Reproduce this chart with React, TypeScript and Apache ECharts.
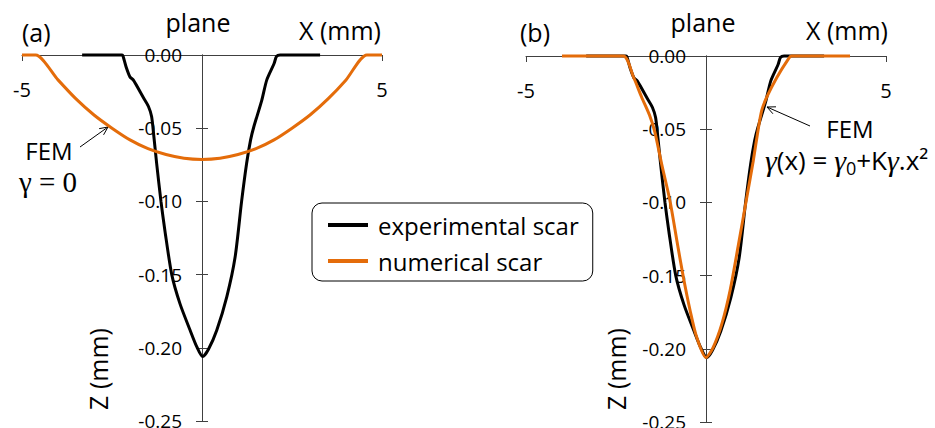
import React, { useEffect, useRef } from 'react';
import * as echarts from 'echarts';

// ---- data (x in mm, z in mm) ----
const expX = [-3.33, -2.22, -2.19, -2.11, -2.0, -1.91, -1.63, -1.49, -1.4, -1.34, -1.26, -1.14, -1.03, -0.84, -0.61, -0.33, -0.15, 0.02, 0.18, 0.41, 0.69, 0.92, 1.1, 1.24, 1.35, 1.44, 1.66, 1.8, 2.0, 2.07, 2.17, 3.28];
const expZ = [0, 0, -0.001, -0.008, -0.015, -0.017, -0.029, -0.035, -0.042, -0.055, -0.074, -0.1, -0.12, -0.15, -0.17, -0.188, -0.199, -0.206, -0.201, -0.188, -0.165, -0.138, -0.1, -0.074, -0.058, -0.049, -0.031, -0.017, -0.006, -0.001, 0, 0];

const numAX = [-5, -4.62, -4, -3.5, -3, -2.5, -2, -1.5, -1, -0.5, 0, 0.5, 1, 1.5, 2, 2.5, 3, 3.5, 4, 4.58, 5];
const numAZ = [0, 0, -0.017, -0.03, -0.041, -0.05, -0.058, -0.064, -0.068, -0.0705, -0.0713, -0.0705, -0.068, -0.064, -0.058, -0.05, -0.041, -0.03, -0.017, 0, 0];

const numBX = [-4.0, -2.3, -2.02, -1.79, -1.56, -1.42, -1.23, -1.0, -0.81, -0.63, -0.44, -0.26, 0, 0.2, 0.44, 0.67, 0.9, 1.13, 1.31, 1.45, 1.55, 1.69, 1.96, 2.29, 2.37, 4.0];
const numBZ = [0, 0, -0.014, -0.028, -0.041, -0.052, -0.074, -0.099, -0.126, -0.151, -0.174, -0.192, -0.206, -0.199, -0.183, -0.16, -0.129, -0.097, -0.072, -0.05, -0.037, -0.028, -0.015, -0.002, 0, 0];

const xTickValues = [-5, 5];
const xMin = -5;
const xMax = 5;
const zMin = -0.25;
const zMax = 0;
const zStep = 0.05;

const SERIES_EXP = 'experimental scar';
const SERIES_NUM = 'numerical scar';

const FONT = "'Open Sans', sans-serif";
const SERIF = "'Liberation Serif', 'DejaVu Serif', serif";
const BLACK = '#000000';
const ORANGE = '#E46C0A';
const AXIS = '#404040';

const pairs = (xs: number[], zs: number[]) => xs.map((x, i) => [x, zs[i]]);

function arrow(x1: number, y1: number, x2: number, y2: number) {
  const dx = x2 - x1;
  const dy = y2 - y1;
  const len = Math.hypot(dx, dy);
  const bx = -dx / len;
  const by = -dy / len;
  const a = (25 * Math.PI) / 180;
  const L = 9;
  const c = Math.cos(a);
  const s = Math.sin(a);
  const p1 = [x2 + L * (bx * c - by * s), y2 + L * (bx * s + by * c)];
  const p2 = [x2 + L * (bx * c + by * s), y2 + L * (-bx * s + by * c)];
  const st = { stroke: '#000', lineWidth: 1, fill: 'none' };
  return [
    { type: 'line', shape: { x1, y1, x2, y2 }, style: st, silent: true },
    { type: 'polyline', shape: { points: [p1, [x2, y2], p2] }, style: st, silent: true },
  ];
}

function text(t: string, x: number, y: number, size: number, align = 'left', extra: any = {}) {
  const { style: extraStyle, ...rest } = extra;
  return {
    type: 'text',
    x,
    y,
    silent: true,
    ...rest,
    style: {
      text: t,
      fill: '#000',
      fontFamily: FONT,
      fontSize: size,
      textAlign: align,
      textVerticalAlign: 'middle',
      ...(extraStyle || {}),
    },
  };
}

export default function App() {
  const ref = useRef<HTMLDivElement>(null);

  useEffect(() => {
    if (!ref.current) return;
    const chart = echarts.init(ref.current, null, { renderer: 'svg' });

    const GW = 360;
    const grids = [
      { left: 22, top: 55, width: GW, height: 366, outerBoundsMode: 'none', containLabel: false },
      { left: 526, top: 56, width: GW, height: 366, outerBoundsMode: 'none', containLabel: false },
    ];

    const xAxes = grids.map((_, i) => ({
      type: 'value',
      gridIndex: i,
      position: 'top',
      min: xMin,
      max: xMax,
      interval: 5,
      axisLine: { onZero: false, lineStyle: { color: AXIS, width: 1 } },
      axisTick: { inside: true, length: 6, customValues: xTickValues, lineStyle: { color: AXIS, width: 1 } },
      axisLabel: {
        inside: true,
        margin: 24,
        customValues: xTickValues,
        color: '#000',
        fontSize: 20,
        fontFamily: FONT,
        formatter: (v: number) => String(v),
      },
      splitLine: { show: false },
    }));

    // the vertical axis sits at x = 0, i.e. half the grid width in from the left edge
    const yOffset = -GW / 2;
    const yAxes: any[] = [];
    grids.forEach((_, i) => {
      const common = {
        type: 'value',
        gridIndex: i,
        position: 'left',
        offset: yOffset,
        min: zMin,
        max: zMax,
        interval: zStep,
        splitLine: { show: false },
      };
      yAxes.push({
        ...common,
        axisLine: { onZero: false, lineStyle: { color: AXIS, width: 1 } },
        axisTick: { length: 6, lineStyle: { color: AXIS, width: 1 } },
        axisLabel: {
          margin: 20,
          color: '#000',
          fontSize: 19,
          fontFamily: FONT,
          formatter: (v: number) => (Math.abs(v) < 1e-9 ? 0 : v).toFixed(2),
        },
      });
      yAxes.push({
        ...common,
        axisLine: { onZero: false, lineStyle: { color: AXIS, width: 1 } },
        axisTick: { inside: true, length: 6, lineStyle: { color: AXIS, width: 1 } },
        axisLabel: { show: false },
      });
    });

    const lineCommon = {
      type: 'line',
      showSymbol: false,
      symbol: 'none',
      smooth: 0.25,
      clip: false,
    };

    const series = [
      { ...lineCommon, name: SERIES_EXP, xAxisIndex: 0, yAxisIndex: 0, data: pairs(expX, expZ), lineStyle: { color: BLACK, width: 3 }, itemStyle: { color: BLACK }, z: 3 },
      { ...lineCommon, name: SERIES_NUM, xAxisIndex: 0, yAxisIndex: 0, data: pairs(numAX, numAZ), lineStyle: { color: ORANGE, width: 3 }, itemStyle: { color: ORANGE }, z: 4 },
      { ...lineCommon, name: SERIES_EXP, xAxisIndex: 1, yAxisIndex: 2, data: pairs(expX, expZ), lineStyle: { color: BLACK, width: 3 }, itemStyle: { color: BLACK }, z: 3 },
      { ...lineCommon, name: SERIES_NUM, xAxisIndex: 1, yAxisIndex: 2, data: pairs(numBX, numBZ), lineStyle: { color: ORANGE, width: 3 }, itemStyle: { color: ORANGE }, z: 4 },
    ];

    const graphics: any[] = [
      text('(a)', 22, 32, 25),
      text('plane', 198, 22, 25, 'center'),
      text('X (mm)', 381, 30, 25, 'right'),
      text('FEM', 49, 150, 24, 'center'),
      text('γ = 0', 48, 182, 29, 'center', { style: { fontFamily: SERIF } }),
      ...arrow(80, 147, 108, 127),
      text('Z (mm)', 98, 369, 25, 'center', { rotation: Math.PI / 2 }),
      text('(b)', 520, 32, 25),
      text('plane', 703, 22, 25, 'center'),
      text('X (mm)', 888, 30, 25, 'right'),
      text('FEM', 850, 128, 24, 'center'),
      {
        type: 'text',
        x: 765,
        y: 160,
        silent: true,
        style: {
          text: '{g|γ}(x) = {g|γ}{s|0}+K{g|γ}.x²',
          fill: '#000',
          fontFamily: FONT,
          fontSize: 26,
          textAlign: 'left',
          textVerticalAlign: 'middle',
          rich: {
            g: { fontFamily: SERIF, fontStyle: 'italic', fontSize: 30 },
            s: { fontFamily: FONT, fontSize: 18, padding: [16, 0, 0, 0] },
          },
        },
      },
      ...arrow(810, 126, 767, 107),
      text('Z (mm)', 616, 369, 25, 'center', { rotation: Math.PI / 2 }),
    ];

    chart.setOption({
      animation: false,
      backgroundColor: '#ffffff',
      grid: grids,
      xAxis: xAxes,
      yAxis: yAxes,
      legend: {
        data: [SERIES_EXP, SERIES_NUM],
        orient: 'vertical',
        left: 312,
        top: 203,
        padding: [10, 14, 8, 16],
        itemGap: 12,
        itemWidth: 40,
        itemHeight: 4,
        icon: 'rect',
        selectedMode: false,
        borderColor: '#000',
        borderWidth: 1,
        borderRadius: 10,
        backgroundColor: '#fff',
        textStyle: { fontFamily: FONT, fontSize: 24, color: '#000', padding: [0, 0, 0, 5] },
      },
      series,
      graphic: graphics,
    });

    return () => chart.dispose();
  }, []);

  return (
    <div
      ref={ref}
      style={{ position: 'fixed', left: 0, top: 0, width: 935, height: 428, background: '#fff' }}
    />
  );
}
